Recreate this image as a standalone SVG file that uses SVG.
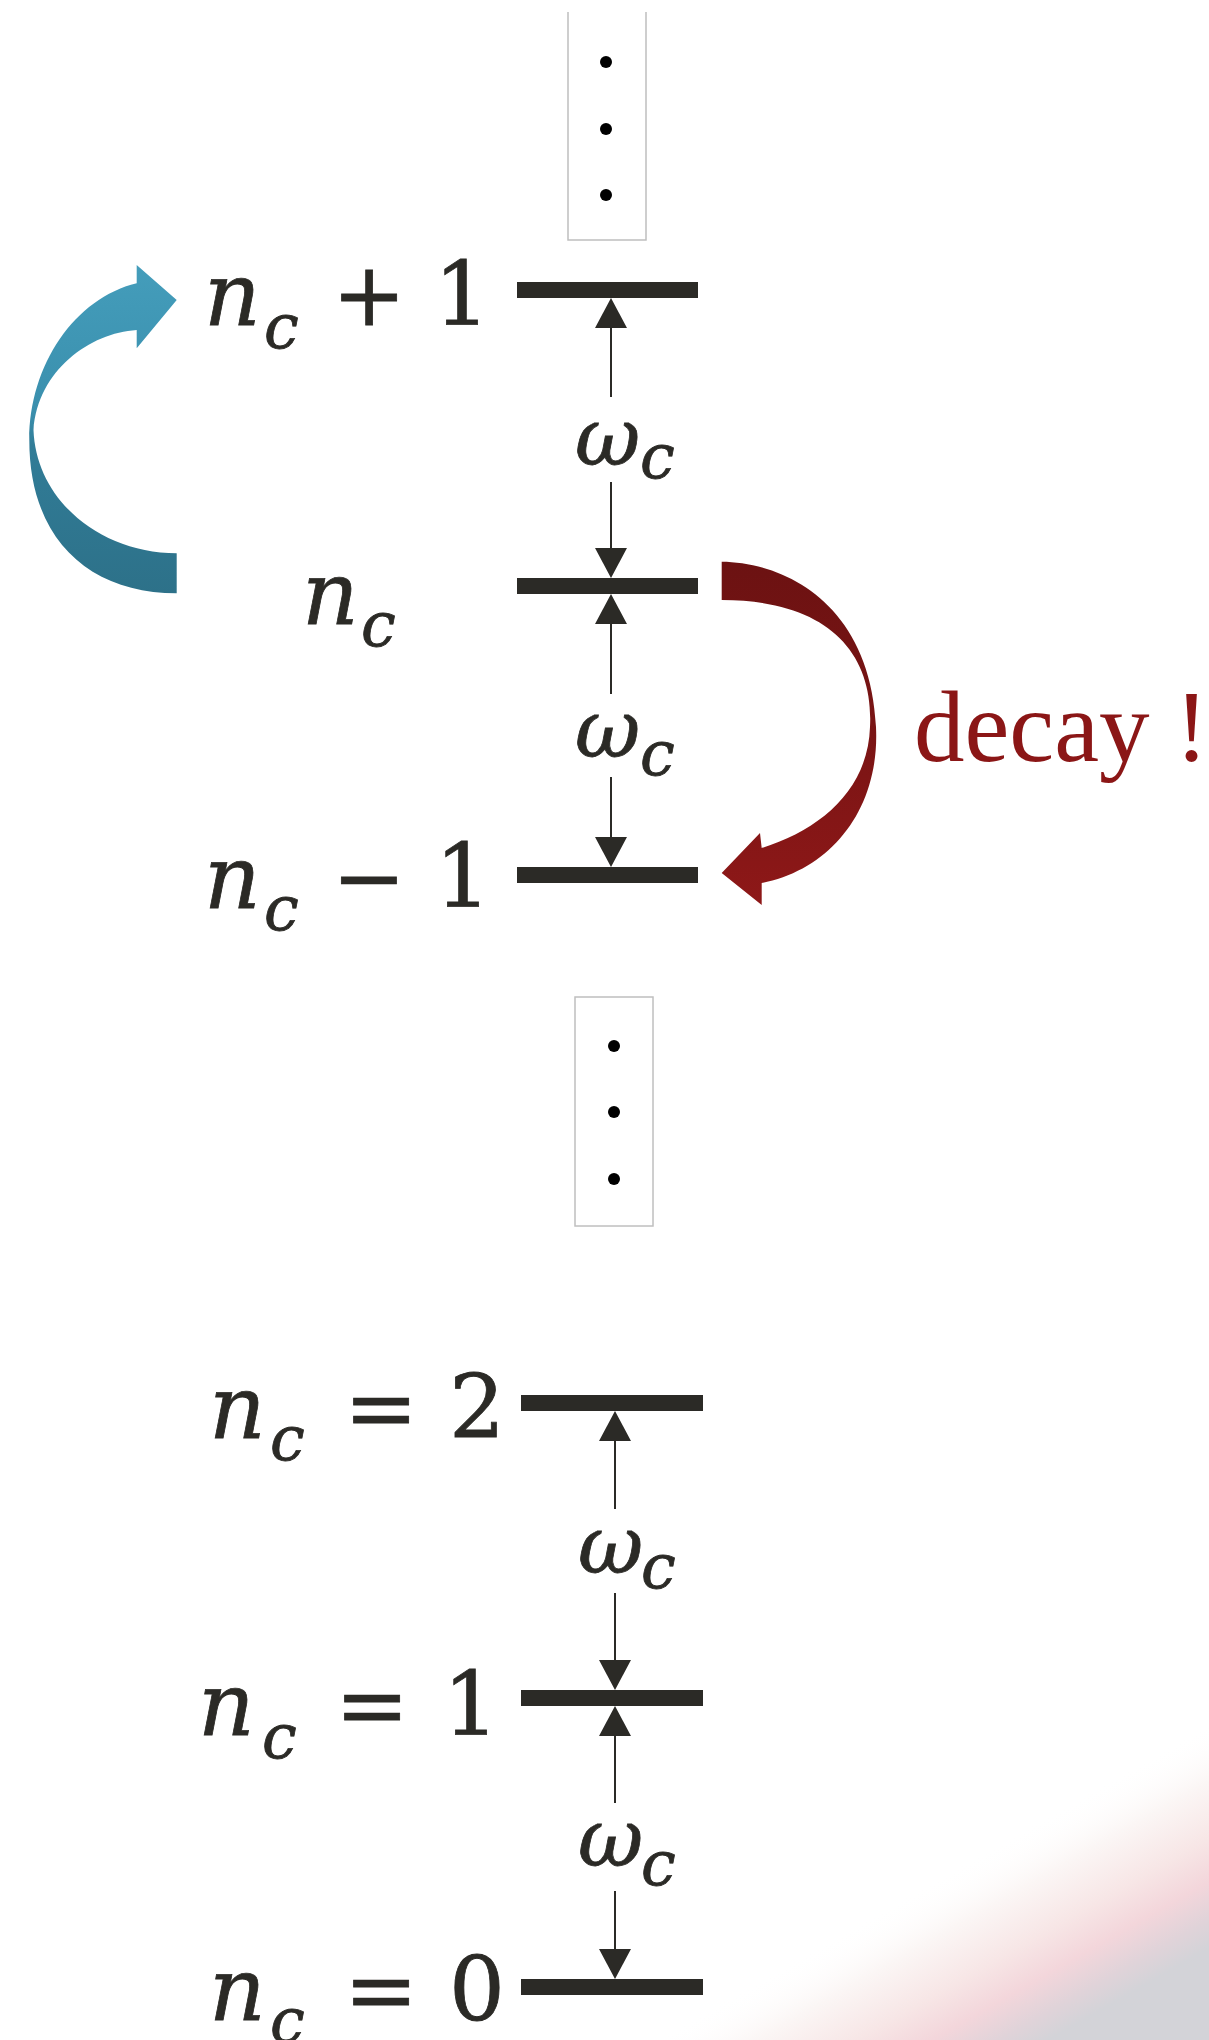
<svg xmlns="http://www.w3.org/2000/svg" width="1209" height="2040" viewBox="0 0 1209 2040">
<style>
.bar{fill:#2B2A26}
.m{font-family:"DejaVu Serif","Liberation Serif",serif;font-style:italic;fill:#2B2A26;stroke:#2B2A26;stroke-width:0.8}
.n{font-size:88px}
.s{font-size:62px}
.w{font-size:80px}
.op{font-family:"DejaVu Serif","Liberation Serif",serif;font-size:88px;fill:#2B2A26;stroke:#2B2A26;stroke-width:0.8;text-anchor:middle}
.ln{stroke:#2B2A26;stroke-width:2;fill:none;marker-end:url(#ah)}
.box{fill:#fff;stroke:#BFBFBF;stroke-width:1.5}
.dot{fill:#000}
</style>
<defs>
<marker id="ah" viewBox="0 0 30 32" markerWidth="30" markerHeight="32" refX="26" refY="16" orient="auto" markerUnits="userSpaceOnUse">
<path d="M0,0 L30,16 L0,32 Z" fill="#2B2A26"/>
</marker>
<linearGradient id="blueG" x1="0" y1="0" x2="0" y2="1">
<stop offset="0" stop-color="#449DBB"/>
<stop offset="0.45" stop-color="#3A8FAD"/>
<stop offset="0.55" stop-color="#317C97"/>
<stop offset="1" stop-color="#2D7189"/>
</linearGradient>
<linearGradient id="redG" x1="0" y1="0" x2="0" y2="1">
<stop offset="0" stop-color="#6C1212"/>
<stop offset="0.5" stop-color="#7A1414"/>
<stop offset="1" stop-color="#8E1818"/>
</linearGradient>
<linearGradient id="bgG" gradientUnits="userSpaceOnUse" x1="900" y1="1900" x2="1024" y2="2117">
<stop offset="0" stop-color="#FFFFFF" stop-opacity="0"/>
<stop offset="0.2" stop-color="#FBF6F5"/>
<stop offset="0.4" stop-color="#F7E6E6"/>
<stop offset="0.55" stop-color="#F3D6DB"/>
<stop offset="0.68" stop-color="#E0D3D9"/>
<stop offset="0.78" stop-color="#D3D3D8"/>
<stop offset="1" stop-color="#D3D3D8"/>
</linearGradient>
</defs>
<rect width="1209" height="2040" fill="#fff"/>
<path d="M656,2040 L1209,1723 L1209,2040 Z" fill="url(#bgG)"/>

<g id="dots-top">
<path class="box" d="M568,12 V240 H646 V12"/>
<circle class="dot" cx="606" cy="62" r="6"/>
<circle class="dot" cx="606" cy="129" r="6"/>
<circle class="dot" cx="606" cy="195" r="6"/>
</g>
<g id="dots-bottom">
<rect class="box" x="575" y="997" width="78" height="229"/>
<circle class="dot" cx="614" cy="1046" r="6"/>
<circle class="dot" cx="614" cy="1112" r="6"/>
<circle class="dot" cx="614" cy="1179" r="6"/>
</g>

<g id="level-nc-plus-1">
<rect class="bar" x="517" y="282" width="181" height="16"/>
<text class="m n" x="204" y="325">n</text>
<text class="m s" x="264" y="348">c</text>
<text class="op" x="369" y="325">+</text>
<text class="op" x="462" y="325">1</text>
</g>
<g id="level-nc">
<rect class="bar" x="517" y="578" width="181" height="16"/>
<text class="m n" x="302" y="624">n</text>
<text class="m s" x="361" y="646">c</text>
</g>
<g id="level-nc-minus-1">
<rect class="bar" x="517" y="867" width="181" height="16"/>
<text class="m n" x="204" y="908">n</text>
<text class="m s" x="264" y="930">c</text>
<text class="op" x="369" y="908">−</text>
<text class="op" x="463" y="907">1</text>
</g>
<g id="level-2">
<rect class="bar" x="521" y="1395" width="182" height="16"/>
<text class="m n" x="209" y="1438">n</text>
<text class="m s" x="270" y="1460">c</text>
<text class="op" x="381" y="1438">=</text>
<text class="op" x="477" y="1438">2</text>
</g>
<g id="level-1">
<rect class="bar" x="521" y="1690" width="182" height="16"/>
<text class="m n" x="198" y="1735">n</text>
<text class="m s" x="262" y="1758">c</text>
<text class="op" x="372" y="1735">=</text>
<text class="op" x="471" y="1735">1</text>
</g>
<g id="level-0">
<rect class="bar" x="521" y="1979" width="182" height="16"/>
<text class="m n" x="209" y="2020">n</text>
<text class="m s" x="270" y="2042">c</text>
<text class="op" x="381" y="2020">=</text>
<text class="op" x="477" y="2020">0</text>
</g>

<g id="connectors">
<path class="ln" d="M611,397 V302"/>
<path class="ln" d="M611,482 V574"/>
<path class="ln" d="M611,694 V598"/>
<path class="ln" d="M611,777 V863"/>
<path class="ln" d="M615,1509 V1415"/>
<path class="ln" d="M615,1593 V1686"/>
<path class="ln" d="M615,1803 V1710"/>
<path class="ln" d="M615,1891 V1975"/>
<path id="excite-arrow" fill="url(#blueG)" d="M176.7,300 L136.7,265 L136.7,283.3 C75,298 29.3,365 29.3,440 C29.3,540 90,593.3 176.7,593.3 L176.7,553.3 C100,553 36,500 33.5,430 C38,370 90,333 136.7,330 L136.7,348.3 Z"/>
<path id="decay-arrow" fill="url(#redG)" d="M721.7,561.7 C780,562 870,600 876,727 C880,810 830,870 761.7,883 L761.7,905 L721.7,873 L760,833 L761.7,848 C820,830 868,790 870,727 C874,650 825,600 721.7,600 Z"/>
</g>

<g id="labels">
<g id="w1"><text class="m w" x="575" y="465">ω</text><text class="m s" x="640" y="478">c</text></g>
<g id="w2"><text class="m w" x="575" y="757">ω</text><text class="m s" x="640" y="775">c</text></g>
<g id="w3"><text class="m w" x="578" y="1573">ω</text><text class="m s" x="641" y="1588">c</text></g>
<g id="w4"><text class="m w" x="578" y="1866">ω</text><text class="m s" x="641" y="1885">c</text></g>
<text id="decay" x="914" y="761" font-family="Liberation Serif, serif" font-size="101" fill="#8B1616">decay !</text>
</g>
</svg>
